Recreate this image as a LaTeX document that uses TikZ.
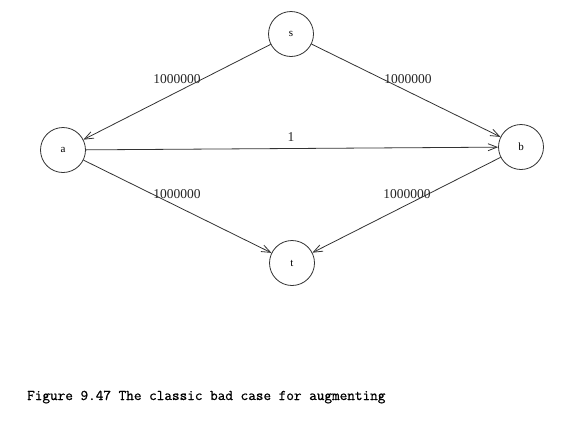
\documentclass[tikz,border=0pt]{standalone}
\usepackage{fontspec}
\setmainfont{Liberation Serif}
\newfontfamily\capfont[FakeBold=0.8]{Latin Modern Mono}
\usetikzlibrary{arrows.meta}
\begin{document}
\begin{tikzpicture}[x=1pt,y=-1pt,
  vertex/.style={draw=black!80,circle,minimum size=45pt,inner sep=0pt,line width=0.8pt,font=\fontsize{11}{12}\selectfont},
  edge/.style={draw=black!80,line width=0.8pt,-{Straight Barb[length=9pt,width=7pt,line width=0.8pt]}},
  lbl/.style={font=\fontsize{13.5}{15}\selectfont,inner sep=0pt,text=black!85}]
\useasboundingbox (0,0) rectangle (588,429);
\fill[white] (0,0) rectangle (588,429);
\node[vertex] (s) at (291,34) {s};
\node[vertex] (a) at (63,150) {a};
\node[vertex] (b) at (521,147) {b};
\node[vertex] (t) at (292,263) {t};
\draw[edge] (s) -- (a);
\draw[edge] (s) -- (b);
\draw[edge] (a) -- (b);
\draw[edge] (a) -- (t);
\draw[edge] (b) -- (t);
\node[lbl] (l1) at (177,79) {1000000};
\node[lbl] (l2) at (408,79) {1000000};
\node[lbl] (l3) at (291,137) {1};
\node[lbl] (l4) at (177,194) {1000000};
\node[lbl] (l5) at (407,194) {1000000};
\node[anchor=base west,inner sep=0pt,font=\capfont\fontsize{14.8}{16}\selectfont] (caption) at (27,400) {Figure 9.47 The classic bad case for augmenting};
\end{tikzpicture}
\end{document}
